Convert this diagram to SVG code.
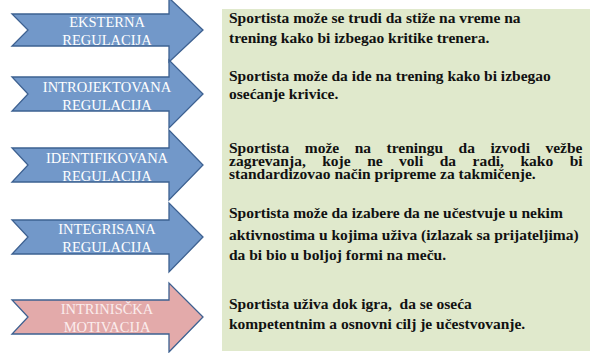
<svg xmlns="http://www.w3.org/2000/svg" width="596" height="353" viewBox="0 0 596 353">
<defs>
<style>
.arr{stroke:#3D6191;stroke-width:1.3;stroke-linejoin:miter}
.blue{fill:#7298C9}
.pink{fill:#E3AAAA}
.lbl{font-family:"Liberation Serif","Times New Roman",serif;font-size:14.5px;fill:#FFFFFF;text-anchor:middle}
.lblp{fill:#FBEDED}
.box{fill:#E0E9CC}
.txt{font-family:"Liberation Serif","Times New Roman",serif;font-size:15.5px;font-weight:bold;fill:#111111;white-space:pre}
</style>
</defs>
<rect width="596" height="353" fill="#FFFFFF"/>
<g id="text-panel">
<rect class="box" x="222" y="9" width="368" height="342"/>
<text class="txt" x="229" y="23">Sportista može se trudi da stiže na vreme na</text>
<text class="txt" x="229" y="43">trening kako bi izbegao kritike trenera.</text>
<text class="txt" x="229" y="81">Sportista može da ide na trening kako bi izbegao</text>
<text class="txt" x="229" y="99">osećanje krivice.</text>
<text class="txt" x="229" y="153" word-spacing="11.6">Sportista može na treningu da izvodi vežbe</text>
<text class="txt" x="229" y="166" word-spacing="12.6">zagrevanja, koje ne voli da radi, kako bi</text>
<text class="txt" x="229" y="179">standardizovao način pripreme za takmičenje.</text>
<text class="txt" x="229" y="218">Sportista može da izabere da ne učestvuje u nekim</text>
<text class="txt" x="229" y="240">aktivnostima u kojima uživa (izlazak sa prijateljima)</text>
<text class="txt" x="229" y="260">da bi bio u boljoj formi na meču.</text>
<text class="txt" x="229" y="309">Sportista uživa dok igra,  da se oseća</text>
<text class="txt" x="229" y="329">kompetentnim a osnovni cilj je učestvovanje.</text>
</g>
<g id="eksterna">
<polygon class="arr blue" points="12,14 169,14 169,-2 203,30 169,62 169,46 12,46 28,30"/>
<text class="lbl" x="107" y="27">EKSTERNA</text>
<text class="lbl" x="107" y="45">REGULACIJA</text>
</g>
<g id="introjektovana">
<polygon class="arr blue" points="12,77 169,77 169,60 203,94 169,128 169,111 12,111 28,94"/>
<text class="lbl" x="107" y="92">INTROJEKTOVANA</text>
<text class="lbl" x="107" y="110">REGULACIJA</text>
</g>
<g id="identifikovana">
<polygon class="arr blue" points="12,148 169,148 169,130 203,165 169,200 169,182 12,182 28,165"/>
<text class="lbl" x="107" y="163">IDENTIFIKOVANA</text>
<text class="lbl" x="107" y="181">REGULACIJA</text>
</g>
<g id="integrisana">
<polygon class="arr blue" points="12,220 169,220 169,203 203,237 169,272 169,254 12,254 28,237"/>
<text class="lbl" x="107" y="234">INTEGRISANA</text>
<text class="lbl" x="107" y="252">REGULACIJA</text>
</g>
<g id="intrinsicka">
<polygon class="arr pink" points="12,300 169,300 169,283 203,317 169,352 169,334 12,334 28,317"/>
<text class="lbl lblp" x="107" y="314">INTRINISČKA</text>
<text class="lbl lblp" x="107" y="332">MOTIVACIJA</text>
</g>
<g id="connectors"/>
</svg>
